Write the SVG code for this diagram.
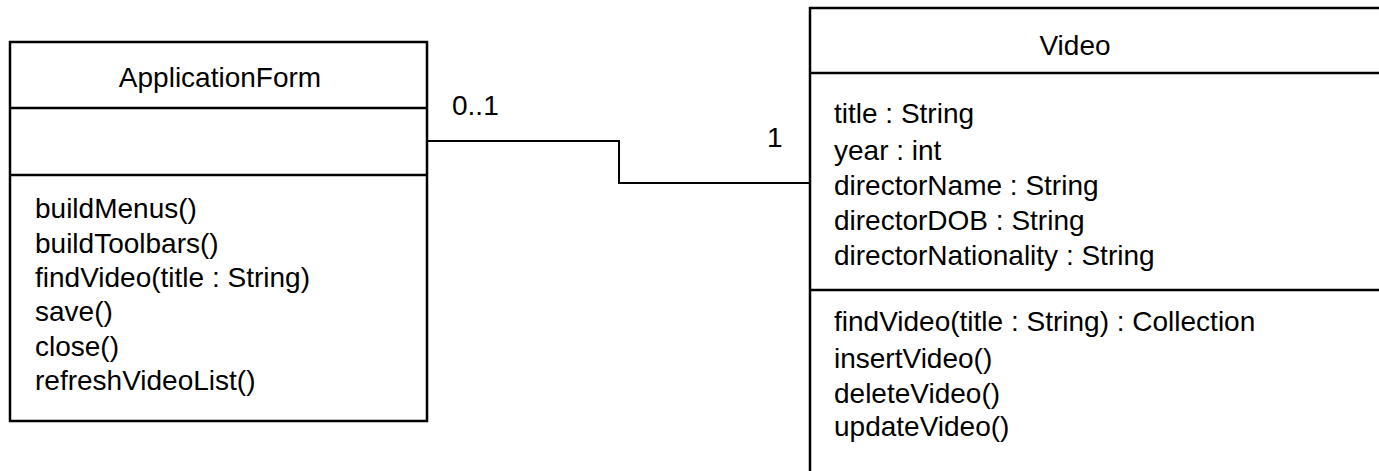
<svg xmlns="http://www.w3.org/2000/svg" width="1379" height="471" viewBox="0 0 1379 471">
  <style>
    .box { fill: #ffffff; stroke: #000000; stroke-width: 2.5; }
    .sep { stroke: #000000; stroke-width: 2.5; }
    .edge { fill: none; stroke: #000000; stroke-width: 2; }
    text { font-family: "Liberation Sans", Arial, sans-serif; font-size: 28px; fill: #000000; }
    .name { text-anchor: middle; }
  </style>
  <rect width="1379" height="471" fill="#ffffff"/>

  <!-- association between the two classes -->
  <g id="connectors">
    <polyline class="edge" points="427,141 619,141 619,183 810,183"/>
    <text x="452" y="115">0..1</text>
    <text x="767" y="147">1</text>
  </g>

  <!-- ApplicationForm class -->
  <g id="ApplicationForm">
    <rect class="box" x="10" y="42" width="417" height="379"/>
    <line class="sep" x1="10" y1="108" x2="427" y2="108"/>
    <line class="sep" x1="10" y1="175" x2="427" y2="175"/>
    <text class="name" x="220" y="87">ApplicationForm</text>
    <text x="35" y="218">buildMenus()</text>
    <text x="35" y="253">buildToolbars()</text>
    <text x="35" y="287">findVideo(title : String)</text>
    <text x="35" y="321">save()</text>
    <text x="35" y="356">close()</text>
    <text x="35" y="390">refreshVideoList()</text>
  </g>

  <!-- Video class (runs past the right and bottom edges) -->
  <g id="Video">
    <rect class="box" x="810" y="8" width="600" height="500"/>
    <line class="sep" x1="810" y1="73" x2="1379" y2="73"/>
    <line class="sep" x1="810" y1="290" x2="1379" y2="290"/>
    <text class="name" x="1075" y="55">Video</text>
    <text x="834" y="123">title : String</text>
    <text x="834" y="160">year : int</text>
    <text x="834" y="195">directorName : String</text>
    <text x="834" y="230">directorDOB : String</text>
    <text x="834" y="265">directorNationality : String</text>
    <text x="834" y="331">findVideo(title : String) : Collection</text>
    <text x="834" y="368">insertVideo()</text>
    <text x="834" y="403">deleteVideo()</text>
    <text x="834" y="436">updateVideo()</text>
  </g>
</svg>
